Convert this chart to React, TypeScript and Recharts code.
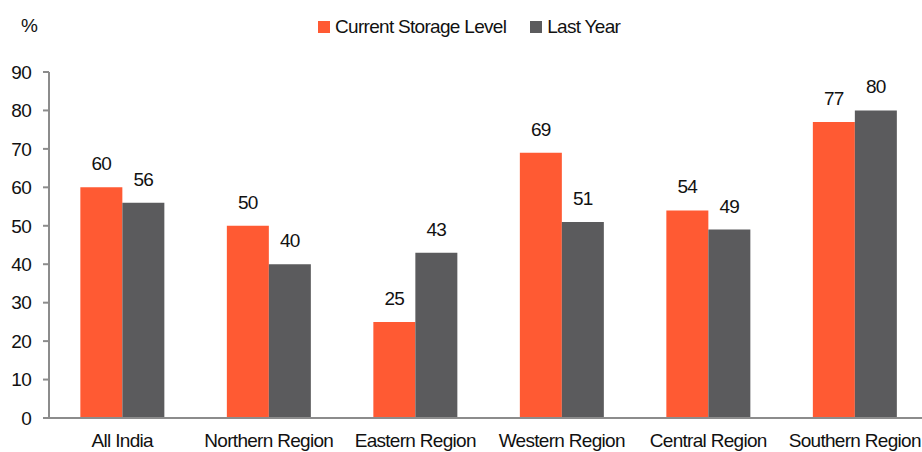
import React from 'react';
import { BarChart, Bar, XAxis, YAxis, LabelList } from 'recharts';

const regions = ['All India', 'Northern Region', 'Eastern Region', 'Western Region', 'Central Region', 'Southern Region'];
const currentLevel = [60, 50, 25, 69, 54, 77];
const lastYear = [56, 40, 43, 51, 49, 80];
const yTicks = [0, 10, 20, 30, 40, 50, 60, 70, 80, 90];
const boundaryTicks = [0, 1, 2, 3, 4, 5, 6];

const data = regions.map((r, i) => ({ region: r, current: currentLevel[i], last: lastYear[i] }));

const FONT = "'Liberation Sans', Arial, sans-serif";
const ORANGE = '#FF5A33';
const GREY = '#5B5B5D';
const AXIS = '#8C8C8C';
const textStyle = { fill: '#111', fontSize: 19, fontFamily: FONT, letterSpacing: -0.7 };

const legendItems = [
  { label: 'Current Storage Level', color: ORANGE },
  { label: 'Last Year', color: GREY },
];

export default function App() {
  return (
    <div style={{ position: 'absolute', left: 0, top: 0, width: 922, height: 452, overflow: 'hidden', background: '#fff' }}>
      <div style={{ position: 'absolute', left: 21, top: 15, fontFamily: FONT, fontSize: 19, letterSpacing: -0.7, color: '#111' }}>%</div>
      {/* legend sits above the plot, so keep it out of the chart's layout */}
      <div
        style={{
          position: 'absolute', left: 318, top: 15, display: 'flex', gap: 24,
          fontFamily: FONT, fontSize: 19, letterSpacing: -0.7, color: '#111', lineHeight: '24px',
        }}
      >
        {legendItems.map((it) => (
          <div key={it.label} style={{ display: 'flex', alignItems: 'center' }}>
            <span style={{ display: 'inline-block', width: 12, height: 12, background: it.color, marginRight: 5 }} />
            <span>{it.label}</span>
          </div>
        ))}
      </div>
      <BarChart
        width={930}
        height={452}
        data={data}
        margin={{ top: 72, right: 2, left: 0, bottom: 4 }}
        barCategoryGap="21.4%"
        barGap={0}
      >
        <XAxis
          dataKey="region"
          interval={0}
          height={30}
          tickLine={false}
          axisLine={{ stroke: AXIS, strokeWidth: 2 }}
          tickMargin={10}
          tick={textStyle}
        />
        <XAxis
          xAxisId="bounds"
          type="number"
          domain={[0, 6]}
          ticks={boundaryTicks}
          axisLine={false}
          tickLine={{ stroke: AXIS, strokeWidth: 2 }}
          tickSize={6}
          tick={false}
          height={0}
          allowDataOverflow
        />
        <YAxis
          width={49}
          domain={[0, 90]}
          ticks={yTicks}
          interval={0}
          axisLine={{ stroke: AXIS, strokeWidth: 2 }}
          tickLine={{ stroke: AXIS, strokeWidth: 2 }}
          tickSize={6}
          tickMargin={12}
          tick={textStyle}
        />
        <Bar dataKey="current" name="Current Storage Level" fill={ORANGE} isAnimationActive={false}>
          <LabelList dataKey="current" position="top" offset={17} style={textStyle} />
        </Bar>
        <Bar dataKey="last" name="Last Year" fill={GREY} isAnimationActive={false}>
          <LabelList dataKey="last" position="top" offset={17} style={textStyle} />
        </Bar>
      </BarChart>
    </div>
  );
}
